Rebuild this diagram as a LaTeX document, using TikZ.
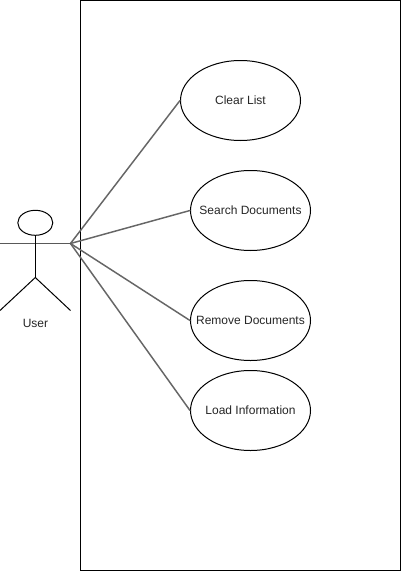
\documentclass[tikz,border=0pt]{standalone}
\usepackage{fontspec}
\setmainfont{Liberation Sans}
\usetikzlibrary{shapes.geometric}
\newcommand{\casetext}[1]{\makebox[0pt][c]{#1}}
\tikzset{
  usecase/.style={draw=black,fill=white,ellipse,line width=0.75pt,minimum width=90pt,minimum height=60pt,inner sep=0pt,text=black!85,font=\fontsize{9pt}{11pt}\selectfont},
  link/.style={draw=black!60,line width=1.1pt,line cap=round},
  stick/.style={draw=black,line width=0.75pt},
  arm/.style={draw=black!65,line width=1.1pt,line cap=round},
  lbl/.style={inner sep=0pt,text=black!85,font=\fontsize{9pt}{11pt}\selectfont}
}
\begin{document}
\begin{tikzpicture}[x=0.75pt,y=-0.75pt]
\useasboundingbox (0,0) rectangle (401,571);
\fill[white] (0,0) rectangle (401,571);
\node[draw=black,line width=0.75pt,minimum width=240pt,minimum height=427.5pt,inner sep=0pt,outer sep=0pt] (sys) at (240.5,285.5) {};
\node[usecase] (clear) at (240.5,100.5) {\casetext{Clear List}};
\node[usecase] (search) at (250.5,210.5) {\casetext{Search Documents}};
\node[usecase] (remove) at (250.5,320.5) {\casetext{Remove Documents}};
\node[usecase] (load) at (250.5,410.5) {\casetext{Load Information}};
\node[draw=black,ellipse,line width=0.75pt,minimum width=26.25pt,minimum height=18.75pt,inner sep=0pt] (head) at (35.3,222.8) {};
\coordinate (armL) at (0,243.5);
\coordinate (armR) at (70.5,243.5);
\coordinate (hip) at (35.3,277.5);
\coordinate (legL) at (0,310.5);
\coordinate (legR) at (70.5,310.5);
\node[lbl] (user) at (35.5,323.5) {User};
\draw[link] (armR) -- (clear.west);
\draw[link] (armR) -- (search.west);
\draw[link] (armR) -- (remove.west);
\draw[link] (armR) -- (load.west);
\draw[arm] (armL) -- (armR);
\draw[stick] (head.south) -- (hip);
\draw[stick] (hip) -- (legL);
\draw[stick] (hip) -- (legR);
\end{tikzpicture}
\end{document}
